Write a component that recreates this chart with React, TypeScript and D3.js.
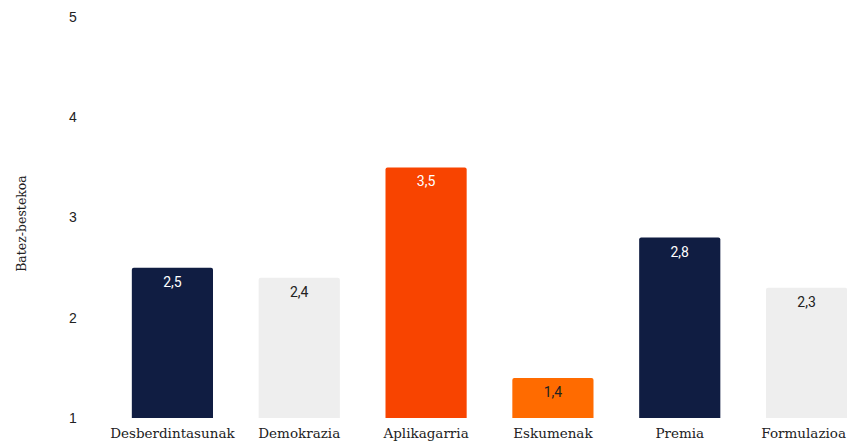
import React, { useLayoutEffect, useRef, useState } from "react";
import * as d3 from "d3";

const categories = ["Desberdintasunak", "Demokrazia", "Aplikagarria", "Eskumenak", "Premia", "Formulazioa"];
const values = [2.5, 2.4, 3.5, 1.4, 2.8, 2.3];
const barColors = ["#101d42", "#eeeeee", "#f84400", "#ff6b00", "#101d42", "#eeeeee"];
const labelColors = ["#ffffff", "#222222", "#ffffff", "#222222", "#ffffff", "#222222"];
const yTicks = [1, 2, 3, 4, 5];
const yTitle = "Batez-bestekoa";

const W = 847;
const H = 443;
const SERIF = "'DejaVu Serif', serif";

export default function App() {
  const x = d3.scaleBand<string>().domain(categories).range([109, 870]).paddingInner(0.36).paddingOuter(0.18);
  const y = d3.scaleLinear().domain([1, 5]).range([418, 17]);
  const bw = x.bandwidth();
  const labelRefs = useRef<(SVGTextElement | null)[]>([]);
  const [widths, setWidths] = useState<number[]>([]);
  useLayoutEffect(() => {
    setWidths(labelRefs.current.map((el) => (el ? el.getComputedTextLength() : 0)));
  }, []);
  return (
    <svg width={W} height={H} style={{ position: "absolute", left: 0, top: 0, background: "#fff" }}>
      {yTicks.map((t) => (
        <text key={t} x={73} y={y(t)} dy="0.35em" textAnchor="middle" fontFamily="'Liberation Sans', Arial, sans-serif" fontSize={14} fill="#222">
          {t}
        </text>
      ))}
      <text transform={`translate(26,${(y(1) + y(5)) / 2 + 6}) rotate(-90)`} textAnchor="middle" fontFamily={SERIF} fontSize={12.5} fill="#222">
        {yTitle}
      </text>
      {categories.map((c, i) => {
        const x0 = x(c)!;
        const top = y(values[i]);
        const r = 2;
        const path = `M${x0},${y(1)}V${top + r}Q${x0},${top} ${x0 + r},${top}H${x0 + bw - r}Q${x0 + bw},${top} ${x0 + bw},${top + r}V${y(1)}Z`;
        const cx = x0 + bw / 2;
        const w = widths[i] || 0;
        const lx = Math.min(cx, W - 1 - w / 2);
        return (
          <g key={c}>
            <path d={path} fill={barColors[i]} />
            <text x={cx} y={top + 19} textAnchor="middle" fontFamily="Roboto, sans-serif" fontSize={14} fill={labelColors[i]}>
              {values[i].toFixed(1).replace(".", ",")}
            </text>
            <text ref={(el) => { labelRefs.current[i] = el; }} x={lx} y={438} textAnchor="middle" fontFamily={SERIF} fontSize={13.5} fill="#222">
              {c}
            </text>
          </g>
        );
      })}
    </svg>
  );
}
